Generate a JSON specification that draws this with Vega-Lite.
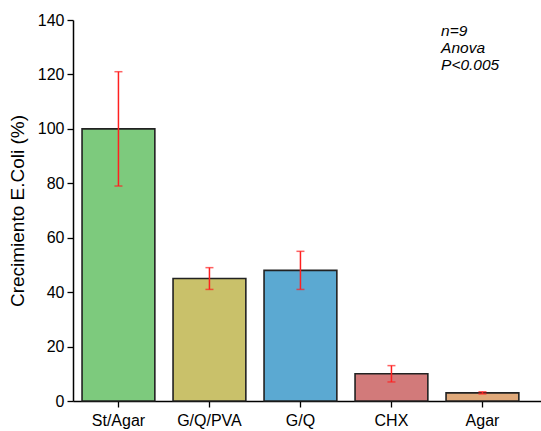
{
  "$schema": "https://vega.github.io/schema/vega-lite/v6.json",
  "width": 468,
  "height": 381,
  "autosize": {"type": "none"},
  "padding": {"left": 73, "top": 20, "right": 0, "bottom": 30},
  "background": "white",
  "config": {
    "view": {"stroke": null},
    "font": "Liberation Sans",
    "axis": {"grid": false, "domainColor": "black", "tickColor": "black", "labelColor": "black", "titleColor": "black", "domainWidth": 1.5, "tickWidth": 1.3}
  },
  "datasets": {
    "bars": [
      {"grupo": "St/Agar", "valor": 100, "lo": 79, "hi": 121},
      {"grupo": "G/Q/PVA", "valor": 45, "lo": 41, "hi": 49},
      {"grupo": "G/Q", "valor": 48, "lo": 41, "hi": 55},
      {"grupo": "CHX", "valor": 10, "lo": 7, "hi": 13},
      {"grupo": "Agar", "valor": 3, "lo": 2.6, "hi": 3.4}
    ],
    "notes": [
      {"grupo": "Agar", "y": 136, "t": "n=9"},
      {"grupo": "Agar", "y": 129.8, "t": "Anova"},
      {"grupo": "Agar", "y": 123.3, "t": "P<0.005"}
    ]
  },
  "layer": [
    {
      "data": {"name": "bars"},
      "mark": {"type": "bar", "stroke": "#222222", "strokeWidth": 1.6},
      "encoding": {
        "x": {
          "field": "grupo", "type": "nominal", "sort": null,
          "scale": {"paddingInner": 0.2, "paddingOuter": 0.1714, "align": 0.29},
          "axis": {"title": null, "labelAngle": 0, "labelFontSize": 16, "labelPadding": 5, "tickSize": 6}
        },
        "y": {
          "field": "valor", "type": "quantitative",
          "scale": {"domain": [0, 140], "nice": false},
          "axis": {
            "title": "Crecimiento E.Coli (%)", "titleFontSize": 19, "titleFontWeight": "normal", "titlePadding": 10,
            "values": [0, 10, 20, 30, 40, 50, 60, 70, 80, 90, 100, 110, 120, 130, 140],
            "labelExpr": "datum.value % 20 === 0 ? datum.label : ''",
            "labelFontSize": 16, "labelPadding": 3,
            "tickSize": 6
          }
        },
        "fill": {
          "field": "grupo", "type": "nominal", "sort": null,
          "scale": {"domain": ["St/Agar", "G/Q/PVA", "G/Q", "CHX", "Agar"], "range": ["#7dca7d", "#c9c16a", "#5ba9d2", "#d27a7a", "#e0a97a"]},
          "legend": null
        }
      }
    },
    {
      "data": {"name": "bars"},
      "mark": {"type": "rule", "color": "#ff2020", "strokeWidth": 1.5},
      "encoding": {
        "x": {"field": "grupo", "type": "nominal", "sort": null},
        "y": {"field": "lo", "type": "quantitative"},
        "y2": {"field": "hi"}
      }
    },
    {
      "data": {"name": "bars"},
      "mark": {"type": "tick", "color": "#ff2020", "thickness": 1.5, "size": 8, "orient": "horizontal"},
      "encoding": {
        "x": {"field": "grupo", "type": "nominal", "sort": null},
        "y": {"field": "lo", "type": "quantitative"}
      }
    },
    {
      "data": {"name": "bars"},
      "mark": {"type": "tick", "color": "#ff2020", "thickness": 1.5, "size": 8, "orient": "horizontal"},
      "encoding": {
        "x": {"field": "grupo", "type": "nominal", "sort": null},
        "y": {"field": "hi", "type": "quantitative"}
      }
    },
    {
      "data": {"name": "notes"},
      "mark": {"type": "text", "align": "left", "baseline": "middle", "fontStyle": "italic", "fontSize": 15.5, "color": "black", "dx": -5},
      "encoding": {
        "x": {"field": "grupo", "type": "nominal", "sort": null, "bandPosition": 0},
        "y": {"field": "y", "type": "quantitative"},
        "text": {"field": "t"}
      }
    }
  ]
}
